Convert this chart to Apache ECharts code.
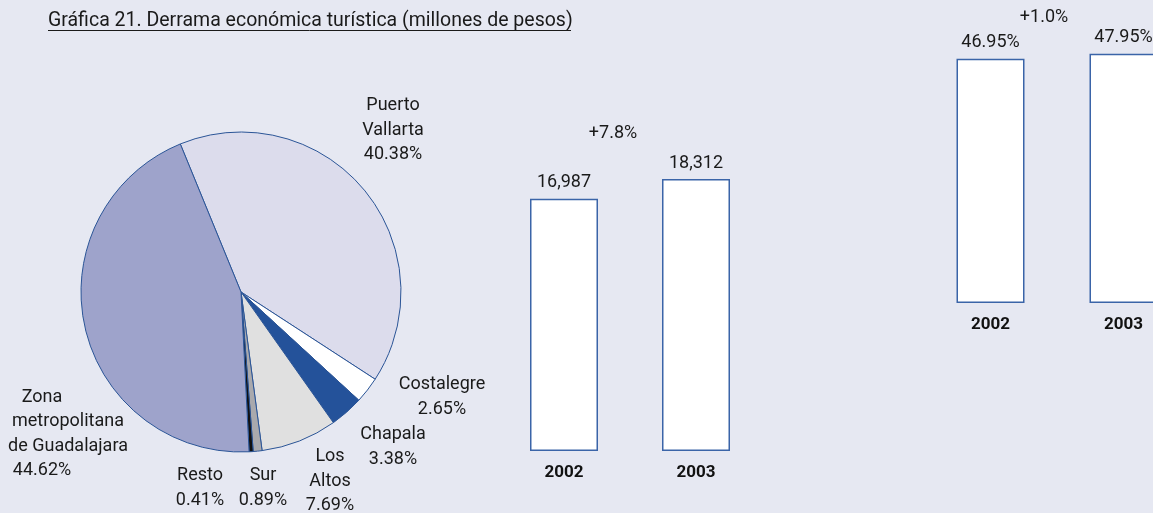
<!DOCTYPE html>
<html>
<head>
<meta charset="utf-8">
<script src="https://cdn.jsdelivr.net/npm/echarts@6/dist/echarts.min.js"></script>
<style>
    html, body { margin: 0; padding: 0; background: #e6e8f2; }
    #chart { width: 1153px; height: 513px; }
</style>
</head>
<body>
<div id="chart"></div>
<script>
    'use strict';
    var regionNames = ['Puerto\nVallarta', 'Costalegre', 'Chapala', 'Los\nAltos', 'Sur', 'Resto', 'Zona\nmetropolitana\nde Guadalajara'];
    var regionShares = [40.38, 2.65, 3.38, 7.69, 0.89, 0.41, 44.62];
    var years = ['2002', '2003'];
    var derrama = [16987, 18312];
    var derramaGrowth = '+7.8%';
    var shareTotal = [46.95, 47.95];
    var shareGrowth = '+1.0%';

    var font = 'Roboto';
    var ink = '#1a1a1a';
    var sliceColors = ['#dcdcec', '#ffffff', '#24529a', '#e0e0e0', '#a9a9ad', '#111111', '#9ea3cb'];
    // label centres for each slice, same order as regionNames
    var labelPos = [[393, 130], [442, 397], [393, 447], [330, 481], [263, 488], [200, 488], [68, 434]];

    var chart = echarts.init(document.getElementById('chart'));

    var pieData = regionNames.map(function (name, i) {
        return { name: name, value: regionShares[i], itemStyle: { color: sliceColors[i] } };
    });

    var barSeries = function (data, xIdx, fmt) {
        return {
            type: 'bar',
            xAxisIndex: xIdx,
            yAxisIndex: xIdx,
            data: data,
            barWidth: 68,
            silent: true,
            itemStyle: { color: '#ffffff', borderColor: '#3a64a8', borderWidth: 1.5 },
            label: {
                show: true,
                position: 'top',
                distance: 7,
                color: ink,
                fontFamily: font,
                fontSize: 18,
                formatter: fmt
            }
        };
    };

    var catAxis = function (gridIdx) {
        return {
            type: 'category',
            gridIndex: gridIdx,
            data: years,
            axisLine: { show: false },
            axisTick: { show: false },
            axisLabel: { color: '#111', fontFamily: font, fontSize: 17, fontWeight: 'bold', margin: 13 }
        };
    };

    var valAxis = function (gridIdx, max) {
        return { type: 'value', gridIndex: gridIdx, min: 0, max: max, show: false };
    };

    var note = function (text, x, y, size) {
        return {
            type: 'text', x: x, y: y, silent: true,
            style: { text: text, fill: ink, fontFamily: font, fontSize: size || 18, align: 'center', verticalAlign: 'middle' }
        };
    };

    var shifted = { fontFamily: font, fontSize: 18, color: ink, lineHeight: 24.5, padding: [0, 52, 0, 0] };

    var option = {
        backgroundColor: '#e6e8f2',
        animation: false,
        textStyle: { fontFamily: font },
        graphic: [
            {
                type: 'text', x: 48, y: 21, silent: true,
                style: {
                    text: 'Gráfica 21. Derrama económica turística (millones de pesos)',
                    fill: ink, fontFamily: font, fontSize: 19.5, align: 'left', verticalAlign: 'middle'
                }
            },
            { type: 'line', silent: true, shape: { x1: 48, y1: 30.5, x2: 571, y2: 30.5 }, style: { stroke: ink, lineWidth: 1 } },
            note(derramaGrowth, 613, 133),
            note(shareGrowth, 1044, 17)
        ],
        grid: [
            { left: 498, width: 264, top: 154, bottom: 62, outerBoundsMode: 'none' },
            { left: 924, width: 266, top: 43, bottom: 210, outerBoundsMode: 'none' }
        ],
        xAxis: [catAxis(0), catAxis(1)],
        yAxis: [valAxis(0, 20000), valAxis(1, 50)],
        series: [
            {
                type: 'pie',
                center: [241, 292],
                radius: 160,
                startAngle: 112.3,
                clockwise: true,
                silent: true,
                data: pieData,
                itemStyle: { borderColor: '#2b5597', borderWidth: 1 },
                label: {
                    show: true,
                    color: ink,
                    fontFamily: font,
                    fontSize: 18,
                    lineHeight: 24.5,
                    width: 170,
                    align: 'center',
                    rich: { s: shifted },
                    formatter: function (p) {
                        var pct = p.value.toFixed(2) + '%';
                        if (p.dataIndex === 6) {
                            var lines = p.name.split('\n');
                            return '{s|' + lines[0] + '}\n' + lines.slice(1).join('\n') + '\n{s|' + pct + '}';
                        }
                        return p.name + '\n' + pct;
                    }
                },
                labelLine: { show: false },
                labelLayout: function (p) {
                    var pos = labelPos[p.dataIndex];
                    return { x: pos[0], y: pos[1], align: 'center', verticalAlign: 'middle' };
                }
            },
            barSeries(derrama, 0, function (p) { return p.value.toLocaleString('en-US'); }),
            barSeries(shareTotal, 1, function (p) { return p.value.toFixed(2) + '%'; })
        ]
    };
    chart.setOption(option);
</script>
</body>
</html>
